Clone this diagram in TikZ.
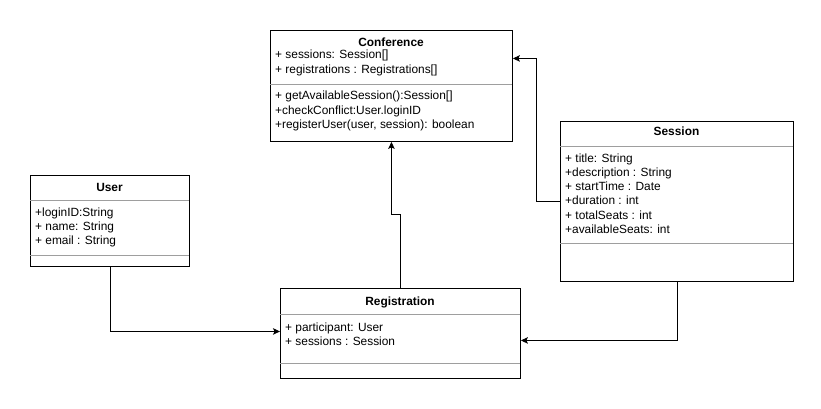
\documentclass[tikz,border=0pt]{standalone}
\usepackage{fontspec}
\setmainfont{Liberation Sans}
\usepackage{tikz}
\usetikzlibrary{arrows.meta,positioning}

\begin{document}
\begin{tikzpicture}[x=1pt,y=-1pt]
        \tikzstyle{every node}+=[inner sep=0pt, font=\fontsize{11.9}{14.3}\selectfont]
        \tikzstyle{classbox}=[draw=black, line width=0.9pt, anchor=north west]
        \tikzstyle{ctitle}=[font=\fontsize{11.9}{14.3}\selectfont\bfseries]
        \tikzstyle{members}=[anchor=west, align=left]
        \tikzstyle{sepline}=[draw={rgb,255:red,158;green,158;blue,158}, line width=0.8pt]
        \tikzstyle{assoc}=[draw=black, line width=0.9pt, -{Stealth[length=7pt,width=6.5pt,inset=1.5pt]}]
        \useasboundingbox (0,0) rectangle (821,409);
        % Conference
        \node [classbox, minimum width=242pt, minimum height=111pt] (conf) at (270,30) {};
        \node [ctitle] (conftitle) at (391,42) {Conference};
        \node [members] (confattr) at (275,63) {+ sessions: Session[]\\+ registrations : Registrations[]};
        \draw [sepline] (270,84) -- (512,84);
        \node [members] (confops) at (275,111) {+ getAvailableSession():Session[]\\+checkConflict:User.loginID\\+registerUser(user, session): boolean};
        % Session
        \node [classbox, minimum width=233pt, minimum height=160pt] (sess) at (560,121) {};
        \node [ctitle] (sesstitle) at (676.5,131) {Session};
        \draw [sepline] (560,146) -- (793,146);
        \node [members] (sessattr) at (565,193.5) {+ title: String\\+description : String\\+ startTime : Date\\+duration : int\\+ totalSeats : int\\+availableSeats: int};
        \draw [sepline] (560,243) -- (793,243);
        % User
        \node [classbox, minimum width=159pt, minimum height=91pt] (user) at (30,175) {};
        \node [ctitle] (usertitle) at (109.5,187) {User};
        \draw [sepline] (30,200) -- (189,200);
        \node [members] (userattr) at (35,227.5) {+loginID:String\\+ name: String\\+ email : String};
        \draw [sepline] (30,255) -- (189,255);
        % Registration
        \node [classbox, minimum width=240pt, minimum height=90pt] (reg) at (280,288) {};
        \node [ctitle] (regtitle) at (400,302) {Registration};
        \draw [sepline] (280,314) -- (520,314);
        \node [members] (regattr) at (285,334.5) {+ participant: User\\+ sessions : Session};
        \draw [sepline] (280,363) -- (520,363);
        % associations
        \draw [assoc] (user.south) |- ([yshift=2pt]reg.west);
        \draw [assoc] (sess.south) |- ([yshift=-7pt]reg.east);
        \draw [assoc] (reg.north) -- ++(0,-74) -| (conf.south);
        \draw [assoc] (sess.west) -- ++(-24,0) |- ([yshift=27.5pt]conf.east);
\end{tikzpicture}
\end{document}
